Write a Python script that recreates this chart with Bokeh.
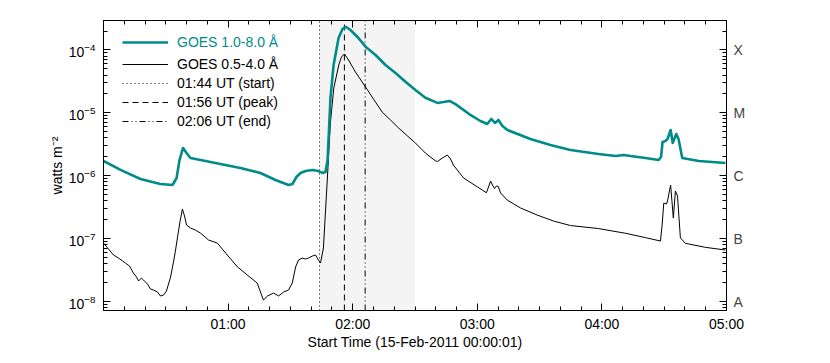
from bokeh.plotting import figure
from bokeh.models import (LogAxis, LinearAxis, LogTicker, FixedTicker, CustomJSTickFormatter,
                          BoxAnnotation, Legend, LegendItem)
from bokeh.embed import file_html
from bokeh.resources import INLINE

# ---- data (minutes after 00:00:01 UT, flux in W m^-2) ----
teal_t = [0, 8.2, 17.8, 27.4, 33.2, 35.2, 36.6, 38.3, 40.0, 41.9, 46.7, 56.3, 65.9, 75.6, 82.8,
          89.1, 91.0, 92.9, 94.9, 97.3, 100.6, 103.5, 105.4, 106.9, 107.9, 109.3, 110.8, 113.2,
          115.1, 116.8, 118.9, 122.3, 126.2, 131.0, 135.8, 140.6, 145.4, 150.2, 155.0, 160.8,
          163.7, 166.6, 169.5, 176.7, 181.5, 184.8, 186.7, 188.5, 190.2, 192.1, 194.5, 205.6,
          215.2, 224.9, 238.4, 246.6, 250.4, 253.8, 261.0, 267.3, 268.5, 269.2, 270.6, 271.6,
          273.1, 274.1, 275.8, 276.9, 278.7, 286.7, 299.5]
teal_v = [1.72e-6, 1.24e-6, 8.89e-7, 7.41e-7, 7.14e-7, 9.23e-7, 1.78e-6, 2.77e-6, 2.30e-6, 1.92e-6,
          1.78e-6, 1.54e-6, 1.33e-6, 1.11e-6, 8.57e-7, 7.14e-7, 7.41e-7, 9.57e-7, 1.11e-6, 1.19e-6,
          1.24e-6, 1.19e-6, 1.11e-6, 1.15e-6, 1.78e-6, 1.73e-5, 5.77e-5, 1.55e-4, 2.16e-4, 2.32e-4,
          2.08e-4, 1.61e-4, 1.13e-4, 8.33e-5, 5.77e-5, 4.31e-5, 3.13e-5, 2.31e-5, 1.74e-5, 1.44e-5,
          1.49e-5, 1.55e-5, 1.38e-5, 9.26e-6, 7.43e-6, 6.66e-6, 8.0e-6, 6.91e-6, 7.71e-6, 6.19e-6,
          5.34e-6, 3.85e-6, 3.09e-6, 2.57e-6, 2.22e-6, 2.06e-6, 2.14e-6, 2.06e-6, 1.92e-6, 1.78e-6,
          1.99e-6, 3.45e-6, 3.57e-6, 3.85e-6, 5.34e-6, 3.32e-6, 4.62e-6, 3.85e-6, 1.92e-6, 1.72e-6,
          1.60e-6]

black_t = [0, 2.4, 4.8, 7.2, 9.2, 10.6, 12.5, 14.4, 15.9, 16.9, 18.3, 19.3, 21.2, 22.6, 24.1,
           26.0, 27.4, 28.9, 30.3, 32.3, 33.7, 34.7, 35.6, 36.8, 38.0, 39.0, 40.0, 41.9, 44.3,
           46.7, 50.6, 54.8, 59.6, 64.4, 69.2, 74.0, 75.6, 77.0, 79.0, 81.9, 84.3, 86.7, 89.1,
           90.9, 92.5, 93.9, 95.7, 97.3, 98.7, 100.6, 102.1, 103.5, 104.5, 105.9, 107.7, 109.3,
           110.9, 113.3, 114.6, 116.0, 118.0, 121.3, 126.2, 130.0, 134.2, 138.2, 142.1, 146.4,
           150.2, 155.0, 159.9, 160.8, 163.2, 165.6, 167.1, 168.5, 173.4, 180.1, 184.4, 185.4,
           186.4, 187.3, 188.3, 189.2, 190.1, 191.2, 194.4, 200.8, 208.8, 216.7, 224.9, 238.4,
           251.4, 261.0, 268.2, 269.0, 269.8, 271.1, 271.6, 273.1, 274.4, 275.4, 276.4, 277.8,
           280.2, 289.8, 299.5]
black_v = [8.54e-8, 6.86e-8, 5.51e-8, 4.93e-8, 4.42e-8, 4.11e-8, 3.68e-8, 2.85e-8, 2.46e-8, 2.13e-8,
           2.37e-8, 2.20e-8, 1.90e-8, 1.59e-8, 1.53e-8, 1.42e-8, 1.23e-8, 1.27e-8, 1.47e-8, 2.46e-8,
           4.26e-8, 6.61e-8, 1.03e-7, 1.84e-7, 2.97e-7, 2.30e-7, 1.65e-7, 1.48e-7, 1.37e-7, 1.23e-7,
           9.53e-8, 8.54e-8, 5.51e-8, 3.59e-8, 2.65e-8, 1.98e-8, 1.42e-8, 1.06e-8, 1.23e-8, 1.37e-8,
           1.23e-8, 1.42e-8, 1.53e-8, 1.98e-8, 3.55e-8, 4.59e-8, 4.93e-8, 4.76e-8, 4.93e-8, 5.31e-8,
           5.51e-8, 4.59e-8, 4.11e-8, 7.11e-8, 7.97e-7, 7.17e-6, 2.49e-5, 5.77e-5, 7.74e-5, 8.64e-5,
           6.93e-5, 4.47e-5, 2.58e-5, 1.66e-5, 1.03e-5, 7.71e-6, 5.75e-6, 4.29e-6, 3.32e-6, 2.30e-6,
           1.72e-6, 1.69e-6, 1.92e-6, 2.14e-6, 1.85e-6, 1.48e-6, 9.23e-7, 6.64e-7, 5.38e-7, 6.64e-7,
           8.27e-7, 7.14e-7, 6.28e-7, 6.88e-7, 6.77e-7, 5.33e-7, 4.12e-7, 3.08e-7, 2.38e-7, 1.91e-7,
           1.62e-7, 1.45e-7, 1.22e-7, 1.04e-7, 9.19e-8, 1.65e-7, 3.69e-7, 3.56e-7, 3.98e-7, 7.14e-7,
           2.13e-7, 5.73e-7, 4.77e-7, 1.03e-7, 8.45e-8, 7.30e-8, 6.61e-8]

event_times = [104, 116, 126]          # 01:44, 01:56, 02:06
event_labels = ["01:44 UT (start)", "01:56 UT (peak)", "02:06 UT (end)"]
event_dashes = ["1 3", "6 4", "6 3 1 3 1 3"]
shade_start, shade_end = 104, 150      # 01:44 - 02:30

x_lo, x_hi = 0, 300
y_lo, y_hi = 7.23e-9, 2.94e-4

tick_minutes = [60, 120, 180, 240, 300]
tick_labels = ["01:00", "02:00", "03:00", "04:00", "05:00"]
minor_minutes = list(range(0, 301, 10))

class_levels = [1e-8, 1e-7, 1e-6, 1e-5, 1e-4]
class_names = ["A", "B", "C", "M", "X"]

series_labels = ["GOES 1.0-8.0 \u00c5", "GOES 0.5-4.0 \u00c5"]
TEAL = "#008b8b"
FONT = "Liberation Sans"
FS = "14px"

p = figure(frame_width=623, frame_height=290, y_axis_type="log",
           x_range=(x_lo, x_hi), y_range=(y_lo, y_hi),
           output_backend="svg", toolbar_location=None,
           min_border_left=103, min_border_top=20, min_border_right=60, min_border_bottom=44)
p.grid.visible = False
p.outline_line_color = "black"
p.background_fill_color = "white"
p.border_fill_color = "white"

# shading
p.add_layout(BoxAnnotation(left=shade_start, right=shade_end, fill_color="#f4f4f4",
                           fill_alpha=1.0, line_color=None, level="underlay"))

# event lines (full-height vertical lines)
ev_r = [p.line([t, t], [y_lo, y_hi], line_color="black", line_width=1, line_dash=d)
        for t, d in zip(event_times, event_dashes)]

black_r = p.line(black_t, black_v, line_color="black", line_width=1)
teal_r = p.line(teal_t, teal_v, line_color=TEAL, line_width=2.6, line_join="round")

# axes styling
xt = FixedTicker(ticks=tick_minutes, minor_ticks=minor_minutes)
xa = p.xaxis[0]
xa.ticker = xt
xa.major_label_overrides = dict(zip(tick_minutes, tick_labels))
xa.axis_label = "Start Time (15-Feb-2011 00:00:01)"

ya = p.yaxis[0]
ya.ticker = LogTicker(num_minor_ticks=10)
ya.axis_label = "watts m\u207b\u00b2"

for ax in (xa, ya):
    ax.major_tick_in = 7
    ax.major_tick_out = 0
    ax.minor_tick_in = 4
    ax.minor_tick_out = 0
    ax.axis_line_color = "black"
    ax.major_tick_line_color = "black"
    ax.minor_tick_line_color = "black"
    ax.major_label_text_font = FONT
    ax.major_label_text_font_size = FS
    ax.major_label_text_color = "black"
    ax.axis_label_text_font = FONT
    ax.axis_label_text_font_size = FS
    ax.axis_label_text_font_style = "normal"
    ax.axis_label_text_color = "black"
xa.major_label_standoff = 5
xa.axis_label_standoff = -1
ya.major_label_standoff = 8
ya.axis_label_standoff = 1

top = LinearAxis(ticker=xt, major_tick_in=7, major_tick_out=0, minor_tick_in=4, minor_tick_out=0,
                 major_label_text_font_size="1px", major_label_text_color=None,
                 major_label_standoff=0, axis_line_color="black")
p.add_layout(top, "above")

right_fmt = CustomJSTickFormatter(args=dict(levels=class_levels, names=class_names), code="""
const e = Math.round(Math.log10(tick));
for (let i = 0; i < levels.length; i++) {
  if (Math.round(Math.log10(levels[i])) == e) { return names[i]; }
}
return "";
""")
right = LogAxis(ticker=LogTicker(num_minor_ticks=10), formatter=right_fmt,
                major_tick_in=7, major_tick_out=0, minor_tick_in=4, minor_tick_out=0,
                major_label_text_font=FONT, major_label_text_font_size=FS,
                major_label_standoff=7, axis_line_color="black")
p.add_layout(right, "right")

# legends (two so the first label can be teal)
leg1 = Legend(items=[LegendItem(label=series_labels[0], renderers=[teal_r])],
              location=(19, 260), padding=0, margin=0, spacing=3,
              glyph_width=46, glyph_height=16, label_height=16, label_standoff=9,
              label_text_font=FONT, label_text_font_size=FS, label_text_color=TEAL,
              background_fill_alpha=0, border_line_color=None)
items2 = [LegendItem(label=series_labels[1], renderers=[black_r])] + \
         [LegendItem(label=l, renderers=[r]) for l, r in zip(event_labels, ev_r)]
leg2 = Legend(items=items2,
              location=(19, 181), padding=0, margin=0, spacing=3,
              glyph_width=46, glyph_height=16, label_height=16, label_standoff=9,
              label_text_font=FONT, label_text_font_size=FS, label_text_color="black",
              background_fill_alpha=0, border_line_color=None)
p.add_layout(leg1)
p.add_layout(leg2)

open("out.html", "w").write(file_html(p, INLINE))
